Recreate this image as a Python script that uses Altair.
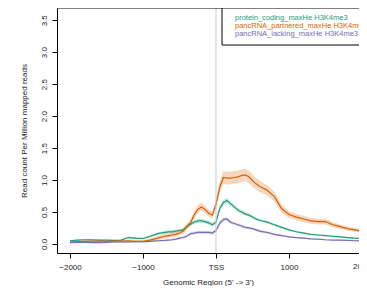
import altair as alt
import pandas as pd

# Genomic positions (bp relative to TSS)
positions = [-2000, -1900, -1800, -1700, -1600, -1500, -1400, -1300, -1200, -1100, -1000, -900, -800, -700,
             -650, -600, -550, -500, -450, -400, -350, -300, -250, -200, -150, -100, -50, 0,
             50, 100, 150, 200, 250, 300, 350, 400, 450, 500, 550, 600, 650,
             700, 800, 900, 1000, 1100, 1200, 1300, 1400, 1500, 1600, 1700, 1800, 1900, 2000]

protein_coding = [0.05, 0.06, 0.065, 0.065, 0.06, 0.06, 0.055, 0.06, 0.10, 0.09, 0.085, 0.12, 0.16, 0.18,
                  0.19, 0.19, 0.20, 0.21, 0.22, 0.27, 0.31, 0.34, 0.36, 0.36, 0.35, 0.33, 0.30, 0.34,
                  0.55, 0.65, 0.68, 0.63, 0.58, 0.53, 0.50, 0.47, 0.45, 0.42, 0.39, 0.37, 0.355,
                  0.34, 0.30, 0.26, 0.22, 0.19, 0.17, 0.15, 0.14, 0.13, 0.12, 0.11, 0.10, 0.09, 0.085]
protein_coding_se = [0.01, 0.01, 0.01, 0.01, 0.01, 0.01, 0.01, 0.01, 0.015, 0.015, 0.015, 0.02, 0.02, 0.025,
                     0.025, 0.025, 0.025, 0.025, 0.025, 0.03, 0.03, 0.03, 0.03, 0.03, 0.03, 0.03, 0.03, 0.035,
                     0.04, 0.04, 0.04, 0.035, 0.035, 0.03, 0.03, 0.03, 0.025, 0.025, 0.025, 0.02, 0.02,
                     0.02, 0.02, 0.02, 0.015, 0.015, 0.015, 0.01, 0.01, 0.01, 0.01, 0.01, 0.01, 0.01, 0.01]

partnered = [0.03, 0.035, 0.04, 0.045, 0.045, 0.045, 0.045, 0.045, 0.05, 0.04, 0.04, 0.06, 0.09, 0.12,
             0.13, 0.14, 0.15, 0.17, 0.20, 0.27, 0.33, 0.45, 0.54, 0.58, 0.54, 0.48, 0.45, 0.62,
             0.88, 1.04, 1.03, 1.03, 1.04, 1.05, 1.07, 1.08, 1.05, 0.99, 0.94, 0.90, 0.87,
             0.84, 0.74, 0.55, 0.46, 0.42, 0.39, 0.36, 0.35, 0.35, 0.30, 0.27, 0.24, 0.22, 0.20]
partnered_se = [0.015, 0.015, 0.015, 0.015, 0.015, 0.015, 0.015, 0.015, 0.02, 0.02, 0.02, 0.025, 0.03, 0.035,
                0.035, 0.04, 0.04, 0.04, 0.045, 0.05, 0.055, 0.06, 0.065, 0.065, 0.06, 0.055, 0.055, 0.07,
                0.09, 0.1, 0.1, 0.1, 0.1, 0.1, 0.1, 0.1, 0.1, 0.095, 0.09, 0.09, 0.085,
                0.08, 0.075, 0.065, 0.055, 0.05, 0.05, 0.045, 0.045, 0.045, 0.04, 0.035, 0.035, 0.03, 0.03]

lacking = [0.02, 0.025, 0.025, 0.02, 0.02, 0.025, 0.03, 0.03, 0.03, 0.035, 0.035, 0.04, 0.05, 0.055,
           0.06, 0.065, 0.075, 0.09, 0.10, 0.12, 0.16, 0.17, 0.18, 0.18, 0.18, 0.18, 0.17, 0.21,
           0.32, 0.38, 0.39, 0.34, 0.32, 0.30, 0.28, 0.26, 0.25, 0.24, 0.22, 0.20, 0.19,
           0.18, 0.15, 0.13, 0.11, 0.10, 0.09, 0.08, 0.075, 0.065, 0.06, 0.06, 0.055, 0.05, 0.045]
lacking_se = [0.01, 0.01, 0.01, 0.01, 0.01, 0.01, 0.01, 0.01, 0.01, 0.01, 0.01, 0.012, 0.015, 0.015,
              0.015, 0.015, 0.02, 0.02, 0.02, 0.02, 0.025, 0.025, 0.025, 0.025, 0.025, 0.025, 0.025, 0.025,
              0.03, 0.03, 0.03, 0.03, 0.025, 0.025, 0.025, 0.02, 0.02, 0.02, 0.02, 0.02, 0.015,
              0.015, 0.015, 0.015, 0.01, 0.01, 0.01, 0.01, 0.01, 0.01, 0.01, 0.01, 0.01, 0.01, 0.01]

series_names = ["protein_coding_maxHe H3K4me3", "pancRNA_partnered_maxHe H3K4me3", "pancRNA_lacking_maxHe H3K4me3"]
series_colors = ["#1b9e77", "#d95f02", "#7570b3"]
series_values = [protein_coding, partnered, lacking]
series_se = [protein_coding_se, partnered_se, lacking_se]

x_tick_values = [-2000, -1000, 0, 1000, 2000]
y_tick_values = [0.0, 0.5, 1.0, 1.5, 2.0, 2.5, 3.0, 3.5]

rows = []
for name, vals, ses in zip(series_names, series_values, series_se):
    for p, v, s in zip(positions, vals, ses):
        rows.append({"series": name, "pos": p, "val": v, "lo": v - s, "hi": v + s})
df = pd.DataFrame(rows)

FONT = "Liberation Sans"
FS = 8
W, H = 302, 245

xscale = alt.Scale(domain=[-2178, 1959], nice=False, zero=False)
yscale = alt.Scale(domain=[-0.142, 3.692], nice=False, zero=False)
color = alt.Color("series:N", scale=alt.Scale(domain=series_names, range=series_colors), legend=None)

label_expr = "datum.value == 0 ? 'TSS' : (datum.value < 0 ? '\u2212' + abs(datum.value) : datum.value)"
xaxis = alt.Axis(values=x_tick_values, grid=False, tickSize=5, tickColor="black", domainColor="black",
                 labelExpr=label_expr,
                 labelFont=FONT, labelFontSize=FS, labelColor="#222222", labelPadding=5,
                 title="Genomic Region (5' -> 3')", titleFont=FONT, titleFontSize=FS,
                 titleFontWeight="normal", titleColor="#222222", titlePadding=7)
yaxis = alt.Axis(values=y_tick_values, grid=False, tickSize=5, tickColor="black", domainColor="black",
                 format=".1f", labelAngle=-90, labelAlign="center", labelBaseline="bottom",
                 labelFont=FONT, labelFontSize=FS, labelColor="#222222", labelPadding=4,
                 title="Read count Per Million mapped reads", titleFont=FONT, titleFontSize=FS,
                 titleFontWeight="normal", titleColor="#222222", titlePadding=12)

base = alt.Chart(df)

ribbons = base.mark_area(opacity=0.25, clip=True).encode(
    x=alt.X("pos:Q", scale=xscale, axis=xaxis),
    y=alt.Y("lo:Q", scale=yscale, axis=yaxis),
    y2="hi:Q",
    color=color,
)

lines = base.mark_line(strokeWidth=1.2, clip=True).encode(
    x=alt.X("pos:Q", scale=xscale, axis=xaxis),
    y=alt.Y("val:Q", scale=yscale, axis=yaxis),
    color=color,
)

tss = alt.Chart(pd.DataFrame({"pos": [0]})).mark_rule(color="#c8c8c8", strokeWidth=1).encode(
    x=alt.X("pos:Q", scale=xscale, axis=xaxis),
)

# last tick label (its tick lies just past the visible edge, as in the cropped original)
edge_label = alt.Chart(pd.DataFrame({"pos": [x_tick_values[-1]]})).mark_text(
    text="2000", font=FONT, fontSize=FS, color="#222222", align="center", baseline="top"
).encode(x=alt.X("pos:Q", scale=xscale, axis=xaxis), y=alt.value(H + 10))

top_frame = alt.Chart(pd.DataFrame({"a": [0]})).mark_rule(color="black", strokeWidth=1).encode(
    x=alt.value(0), x2=alt.value(W), y=alt.value(0)
)

legend_box = alt.Chart(pd.DataFrame({"a": [0]})).mark_rect(fill="white", stroke="black", strokeWidth=1).encode(
    x=alt.value(165), x2=alt.value(400), y=alt.value(0), y2=alt.value(37)
)

legend_texts = []
for i, (name, col) in enumerate(zip(series_names, series_colors)):
    legend_texts.append(
        alt.Chart(pd.DataFrame({"a": [0]})).mark_text(
            text=name, color=col, font=FONT, fontSize=7.5, align="left", baseline="middle"
        ).encode(x=alt.value(178), y=alt.value(10 + 8 * i))
    )

chart = alt.layer(ribbons, lines, tss, edge_label, top_frame, legend_box, *legend_texts).properties(
    width=W, height=H,
    autosize=alt.AutoSizeParams(type="none"),
    padding={"left": 49, "top": 0, "right": 0, "bottom": 33},
    background="white",
).configure_view(strokeOpacity=0)

chart.save("out.html", embed_options={"renderer": "svg", "actions": False})
